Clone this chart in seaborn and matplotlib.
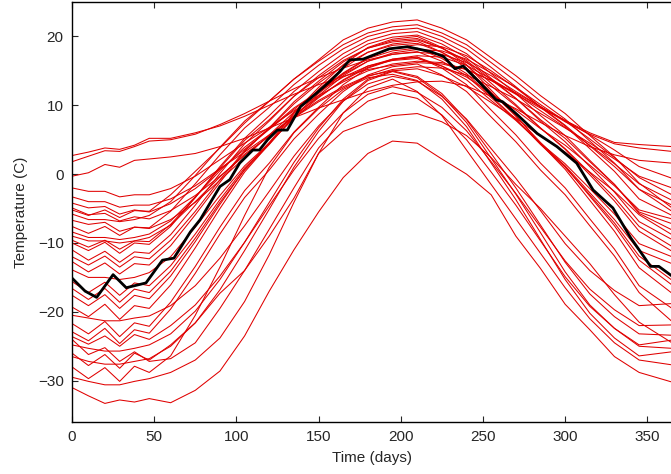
import matplotlib
matplotlib.use("Agg")
import pandas as pd
import seaborn as sns
import matplotlib.pyplot as plt

days = [0, 10, 20, 29, 38, 47, 60, 75, 90, 105, 120, 135, 150, 165, 180,
        195, 210, 225, 240, 255, 270, 285, 300, 315, 330, 345, 365]

victoria = [2.7, 3.2, 3.8, 3.6, 4.2, 5.2, 5.2, 6.0, 7.0, 8.4, 10.0, 11.6, 13.0, 14.2, 15.2, 15.8, 16.2, 16.0, 15.2, 13.6, 11.6, 9.6, 7.8, 6.0, 4.6, 4.3, 4.0]
vancouver = [1.8, 2.6, 3.4, 3.3, 4.0, 4.8, 5.0, 5.8, 7.2, 8.8, 10.6, 12.4, 14.0, 15.4, 16.6, 17.4, 17.7, 17.4, 16.2, 14.3, 12.0, 9.8, 7.6, 5.8, 4.4, 3.8, 3.3]
pr_rupert = [-0.3, 0.2, 1.4, 1.0, 2.0, 2.2, 2.5, 3.0, 4.0, 5.2, 6.7, 8.2, 9.6, 10.8, 12.0, 12.9, 13.4, 13.5, 12.8, 11.3, 9.5, 7.5, 5.6, 4.0, 2.8, 2.0, 1.6]
yarmouth = [-2.0, -2.5, -2.5, -3.3, -3.0, -3.0, -2.1, -0.3, 2.1, 4.5, 6.8, 9.2, 11.4, 13.4, 15.0, 16.0, 16.4, 16.2, 15.2, 13.6, 11.8, 9.8, 7.8, 5.7, 3.5, 1.1, -0.6]
st_johns = [-3.3, -4.0, -4.0, -4.8, -4.5, -4.5, -3.6, -1.7, 0.8, 3.2, 5.7, 8.2, 10.5, 12.5, 14.2, 15.2, 15.6, 15.4, 14.4, 12.7, 10.9, 8.8, 6.7, 4.5, 2.2, -0.3, -2.0]
halifax = [-4.2, -4.9, -4.7, -5.8, -5.2, -5.5, -4.3, -2.1, 0.7, 3.6, 6.5, 9.4, 12.1, 14.5, 16.4, 17.6, 18.1, 17.9, 16.7, 14.7, 12.6, 10.1, 7.7, 5.1, 2.4, -0.5, -3.0]
sydney = [-4.9, -5.9, -5.7, -6.8, -6.2, -6.5, -5.3, -3.1, -0.3, 2.7, 5.6, 8.5, 11.2, 13.6, 15.5, 16.7, 17.2, 17.0, 15.8, 13.8, 11.7, 9.2, 6.8, 4.2, 1.5, -1.4, -3.8]
kamloops = [-5.8, -6.6, -6.6, -6.9, -6.6, -6.0, -4.0, -0.2, 3.9, 7.7, 10.6, 13.8, 16.4, 18.8, 20.5, 21.4, 21.7, 20.5, 18.8, 16.2, 13.5, 10.6, 8.0, 4.8, 1.6, -2.2, -4.5]
toronto = [-5.2, -6.0, -5.2, -6.3, -5.3, -5.4, -3.0, 0.4, 3.8, 7.4, 10.6, 13.8, 16.6, 19.5, 21.2, 22.1, 22.4, 21.2, 19.5, 16.9, 14.3, 11.4, 8.8, 5.6, 2.5, -1.3, -4.9]
charlottetown = [-6.7, -7.3, -7.0, -8.3, -7.7, -7.9, -6.6, -4.1, -0.9, 2.4, 5.7, 9.0, 12.0, 14.7, 16.9, 18.3, 18.8, 18.5, 17.2, 15.0, 12.5, 9.8, 7.1, 4.1, 1.1, -2.2, -5.4]
london = [-7.6, -8.6, -7.6, -8.9, -7.7, -7.8, -5.4, -1.4, 2.8, 6.7, 9.7, 13.0, 15.8, 18.2, 20.0, 20.9, 21.2, 20.0, 18.2, 15.5, 12.7, 9.7, 7.0, 3.7, 0.4, -3.6, -6.0]
calgary = [-8.4, -9.2, -9.2, -9.5, -9.2, -8.7, -6.8, -3.3, 0.5, 3.9, 6.6, 9.6, 12.0, 14.1, 15.7, 16.5, 16.8, 15.7, 14.1, 11.7, 9.3, 6.6, 4.2, 1.3, -1.7, -5.2, -6.5]
fredericton = [-9.6, -10.6, -9.6, -10.9, -9.7, -9.8, -7.3, -3.4, 0.9, 4.9, 7.9, 11.3, 14.0, 16.5, 18.3, 19.2, 19.5, 18.3, 16.5, 13.7, 11.0, 7.9, 5.2, 1.8, -1.5, -5.5, -7.2]
montreal = [-10.0, -11.1, -9.9, -11.5, -10.0, -10.2, -7.6, -3.4, 1.1, 5.2, 8.5, 12.0, 14.9, 17.5, 19.4, 20.4, 20.7, 19.4, 17.5, 14.6, 11.7, 8.5, 5.6, 2.0, -1.5, -5.7, -8.1]
pr_george = [-9.0, -9.7, -9.7, -10.0, -9.7, -9.2, -7.4, -4.0, -0.4, 2.9, 5.5, 8.3, 10.7, 12.7, 14.3, 15.0, 15.3, 14.3, 12.7, 10.4, 8.1, 5.5, 3.2, 0.3, -2.5, -5.9, -8.8]
ottawa = [-11.0, -12.5, -11.2, -12.8, -11.3, -11.5, -8.8, -4.5, 0.1, 4.4, 7.7, 11.3, 14.3, 16.9, 18.9, 19.9, 20.2, 18.9, 16.9, 13.9, 11.0, 7.7, 4.7, 1.1, -2.6, -6.9, -9.5]
sherbrooke = [-12.0, -13.2, -11.9, -13.5, -12.0, -12.3, -9.6, -5.4, -0.8, 3.4, 6.7, 10.2, 13.2, 15.8, 17.7, 18.7, 19.0, 17.7, 15.8, 12.8, 9.9, 6.7, 3.7, 0.2, -3.4, -7.6, -10.5]
quebec = [-12.7, -14.2, -12.9, -14.5, -13.0, -13.2, -10.4, -5.9, -1.2, 3.3, 6.7, 10.5, 13.5, 16.3, 18.3, 19.4, 19.7, 18.3, 16.3, 13.2, 10.1, 6.7, 3.6, -0.1, -3.9, -8.3, -11.2]
edmonton = [-13.9, -15.0, -15.0, -15.3, -15.0, -14.3, -12.0, -7.7, -3.1, 1.2, 4.5, 8.1, 11.1, 13.7, 15.7, 16.7, 17.0, 15.7, 13.7, 10.7, 7.8, 4.5, 1.5, -2.1, -5.8, -10.1, -12.0]
thunder_bay = [-15.6, -17.2, -15.7, -17.6, -15.8, -16.2, -13.3, -8.7, -3.7, 0.9, 4.4, 8.3, 11.4, 14.3, 16.4, 17.4, 17.8, 16.4, 14.3, 11.1, 7.9, 4.4, 1.2, -2.7, -6.6, -11.1, -13.0]
arvida = [-16.6, -18.2, -16.6, -18.6, -16.7, -17.2, -14.1, -9.3, -4.1, 0.6, 4.3, 8.4, 11.7, 14.6, 16.8, 17.9, 18.3, 16.8, 14.6, 11.3, 8.0, 4.3, 1.0, -3.0, -7.1, -11.9, -15.4]
bagotville = [-17.6, -19.1, -17.5, -19.5, -17.6, -18.1, -14.8, -9.8, -4.4, 0.7, 4.6, 8.8, 12.3, 15.4, 17.7, 18.9, 19.3, 17.7, 15.4, 11.9, 8.4, 4.6, 1.1, -3.2, -7.5, -12.5, -16.1]
regina = [-19.3, -20.7, -18.9, -21.1, -19.1, -19.5, -16.1, -10.7, -5.0, 0.3, 4.4, 8.9, 12.6, 15.9, 18.4, 19.6, 20.0, 18.4, 15.9, 12.2, 8.5, 4.4, 0.7, -3.8, -8.3, -13.6, -17.3]
whitehorse = [-20.5, -20.9, -21.3, -21.3, -20.9, -20.6, -19.1, -16.2, -12.2, -7.5, -2.5, 2.6, 7.0, 10.6, 13.1, 14.2, 13.5, 11.3, 8.0, 3.7, -0.6, -5.3, -10.1, -14.0, -16.9, -19.1, -18.8]
pr_albert = [-21.7, -23.2, -21.4, -23.6, -21.6, -22.1, -18.6, -13.4, -7.7, -2.4, 1.6, 6.1, 9.7, 13.0, 15.4, 16.6, 17.0, 15.4, 13.0, 9.3, 5.7, 1.6, -2.0, -6.5, -10.9, -16.2, -19.5]
the_pas = [-22.9, -24.2, -22.4, -24.6, -22.6, -23.1, -19.6, -14.4, -8.7, -3.4, 0.6, 5.1, 8.7, 12.0, 14.4, 15.6, 16.0, 14.4, 12.0, 8.3, 4.7, 0.6, -3.0, -7.5, -11.9, -17.2, -21.4]
schefferville = [-23.6, -24.7, -23.5, -25.0, -23.3, -24.0, -22.0, -19.0, -14.8, -9.9, -4.6, 0.6, 5.2, 8.9, 11.6, 12.7, 11.9, 9.7, 6.3, 1.8, -2.8, -7.7, -12.6, -16.7, -19.7, -22.0, -21.9]
uranium_city = [-24.8, -25.3, -25.7, -25.7, -25.3, -24.8, -23.2, -19.9, -15.3, -9.9, -4.1, 1.7, 6.7, 10.9, 13.8, 15.0, 14.2, 11.7, 7.9, 3.0, -2.0, -7.4, -12.8, -17.4, -20.7, -23.2, -23.4]
churchill = [-26.0, -27.8, -26.2, -28.2, -26.0, -27.0, -24.8, -21.6, -17.3, -14.0, -8.0, -2.0, 3.8, 7.8, 10.6, 11.8, 11.0, 8.6, 5.0, 0.3, -4.5, -9.7, -14.9, -19.2, -22.4, -24.8, -24.1]
yellowknife = [-26.5, -27.2, -27.6, -27.6, -27.2, -26.8, -25.0, -21.6, -16.8, -11.1, -5.1, 1.0, 6.2, 10.6, 13.6, 14.9, 14.0, 11.4, 7.5, 2.3, -2.9, -8.5, -14.2, -19.0, -22.4, -25.0, -25.3]
dawson = [-28.0, -29.7, -28.1, -30.1, -27.9, -28.8, -26.4, -20.5, -13.5, -6.0, 1.0, 6.0, 9.5, 12.3, 14.0, 14.5, 13.6, 10.9, 6.9, 1.6, -3.7, -9.5, -15.3, -20.2, -23.8, -26.4, -25.8]
inuvik = [-29.5, -30.1, -30.6, -30.6, -30.1, -29.7, -28.8, -27.0, -23.8, -18.5, -11.7, -4.1, 3.0, 8.9, 12.5, 13.8, 12.0, 8.5, 3.5, -1.5, -6.5, -11.5, -16.5, -21.0, -24.5, -27.0, -27.7]
iqaluit = [-24.0, -26.2, -25.2, -27.2, -25.8, -27.2, -26.8, -24.5, -19.5, -14.0, -9.0, -3.5, 3.0, 6.2, 7.5, 8.5, 8.8, 7.6, 5.6, 2.4, -1.5, -5.0, -9.0, -13.0, -17.5, -21.5, -24.5]
resolute = [-31.0, -32.2, -33.3, -32.8, -33.1, -32.6, -33.2, -31.4, -28.6, -23.5, -17.0, -11.0, -5.5, -0.5, 3.0, 4.8, 4.5, 2.2, 0.0, -3.0, -9.0, -13.7, -18.9, -22.6, -26.5, -28.8, -30.2]

# highlighted station (black curve)
black_days = [0, 8, 15, 25, 33, 45, 55, 62, 72, 78, 90, 96, 102, 110, 114, 119, 125, 131, 139, 149,
              157, 163, 169, 177, 193, 204, 218, 226, 233, 238, 248, 258, 262, 271, 283, 295, 307, 317,
              329, 340, 345, 352, 357, 365]
black_temp = [-15.1, -17.0, -17.9, -14.6, -16.5, -15.8, -12.5, -12.2, -8.4, -6.6, -1.8, -0.8, 1.6, 3.5, 3.5,
              5.0, 6.4, 6.4, 9.8, 11.8, 13.5, 14.9, 16.6, 16.7, 18.2, 18.5, 17.8, 17.1, 15.3, 15.7, 13.3,
              10.8, 10.5, 8.6, 5.9, 4.0, 1.6, -2.3, -4.9, -9.3, -11.0, -13.4, -13.4, -14.8]

curvas = [victoria, vancouver, pr_rupert, yarmouth, st_johns, halifax, sydney, kamloops, toronto,
          charlottetown, london, calgary, fredericton, montreal, pr_george, ottawa, sherbrooke, quebec,
          edmonton, thunder_bay, arvida, bagotville, regina, whitehorse, pr_albert, the_pas,
          schefferville, uranium_city, churchill, yellowknife, dawson, inuvik, iqaluit, resolute]

# tabela longa para o seaborn
linhas = []
for i, temps in enumerate(curvas):
    for d, t in zip(days, temps):
        linhas.append({"estacao": i, "dia": d, "temp": t})
df = pd.DataFrame(linhas)

sns.set_style("ticks")
plt.rcParams["font.family"] = ["Liberation Sans", "DejaVu Sans"]

fig = plt.figure(figsize=(6.71, 4.74), dpi=100)
ax = fig.add_axes([72 / 671, 52 / 474, 600 / 671, 420 / 474])

sns.lineplot(data=df, x="dia", y="temp", units="estacao", estimator=None,
             color="#e00000", linewidth=0.75, ax=ax, legend=False)
sns.lineplot(x=black_days, y=black_temp, color="black", linewidth=2.0, ax=ax)

ax.set_xlim(0, 365)
ax.set_ylim(-36, 25)
ax.set_xticks(range(0, 351, 50))
ax.set_yticks([-30, -20, -10, 0, 10, 20])
ax.tick_params(direction="in", length=4, top=True, right=False, labelsize=11, pad=6)
ax.spines["right"].set_visible(False)
for s in ["left", "bottom", "top"]:
    ax.spines[s].set_linewidth(1.0)
    ax.spines[s].set_color("black")
ax.set_xlabel("Time (days)", fontsize=11, labelpad=5)
ax.set_ylabel("Temperature (C)", fontsize=11, labelpad=7)

fig.savefig("out.png", dpi=100)
